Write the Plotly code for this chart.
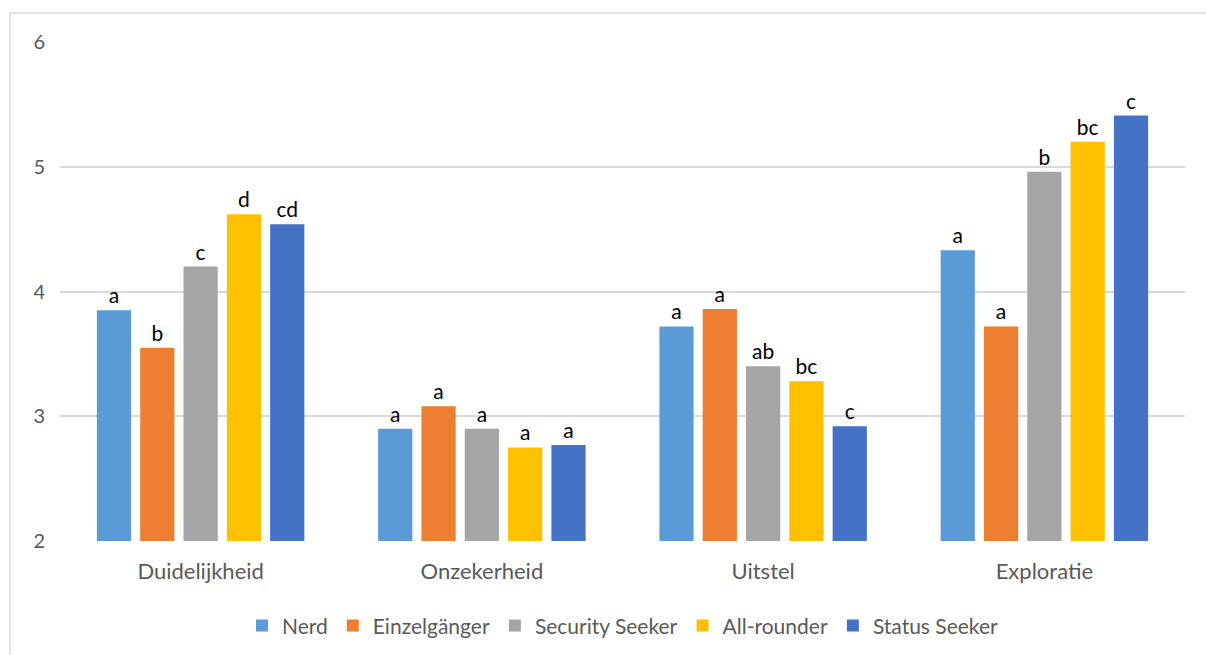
import plotly.graph_objects as go

categories = ["Duidelijkheid", "Onzekerheid", "Uitstel", "Exploratie"]
series_names = ["Nerd", "Einzelgänger", "Security Seeker", "All-rounder", "Status Seeker"]
nerd = [3.85, 2.90, 3.72, 4.33]
einzelganger = [3.55, 3.08, 3.86, 3.72]
security_seeker = [4.20, 2.90, 3.40, 4.96]
all_rounder = [4.62, 2.75, 3.28, 5.20]
status_seeker = [4.54, 2.77, 2.92, 5.41]
labels_nerd = ["a", "a", "a", "a"]
labels_einz = ["b", "a", "a", "a"]
labels_sec = ["c", "a", "ab", "b"]
labels_all = ["d", "a", "bc", "bc"]
labels_status = ["cd", "a", "c", "c"]
y_ticks = [2, 3, 4, 5, 6]

colors = ["#5B9BD5", "#ED7D31", "#A5A5A5", "#FFC000", "#4472C4"]
values = [nerd, einzelganger, security_seeker, all_rounder, status_seeker]
labels = [labels_nerd, labels_einz, labels_sec, labels_all, labels_status]

FONT = "Lato, Carlito, 'Open Sans', sans-serif"

fig = go.Figure()
for name, vals, lbl, col in zip(series_names, values, labels, colors):
    fig.add_trace(go.Bar(
        x=categories, y=[v - 2 for v in vals], base=2, name=name,
        marker=dict(color=col, line=dict(width=0)),
        text=lbl, textposition="outside", cliponaxis=False, constraintext="none",
        textfont=dict(color="black", size=21, family=FONT),
        hoverinfo="skip",
    ))

fig.update_layout(
    width=1206, height=655,
    margin=dict(l=60, r=21, t=42, b=114, autoexpand=False),
    plot_bgcolor="white", paper_bgcolor="white",
    barmode="group", bargap=0.23, bargroupgap=0.21,
    font=dict(family=FONT, color="#595959", size=20),
    legend=dict(orientation="h", x=0.5, xanchor="center", y=-0.17, yanchor="middle",
                font=dict(size=21, color="#595959"), itemwidth=30, tracegroupgap=0),
    xaxis=dict(showgrid=False, ticks="", showline=False, tickfont=dict(size=22),
               ticklabelstandoff=15, automargin=False),
    yaxis=dict(range=[2, 6], tickvals=y_ticks, showgrid=True, gridcolor="#D9D9D9",
               gridwidth=1.5, zeroline=False, showline=False, ticks="",
               tickfont=dict(size=20), ticklabelstandoff=14, automargin=False),
    shapes=[dict(type="rect", xref="paper", yref="paper",
                 x0=-0.0444, x1=1.03, y0=-0.25, y1=1.058,
                 line=dict(color="#D9D9D9", width=1.5), fillcolor="rgba(0,0,0,0)",
                 layer="below")],
)

fig.write_html("out.html")
